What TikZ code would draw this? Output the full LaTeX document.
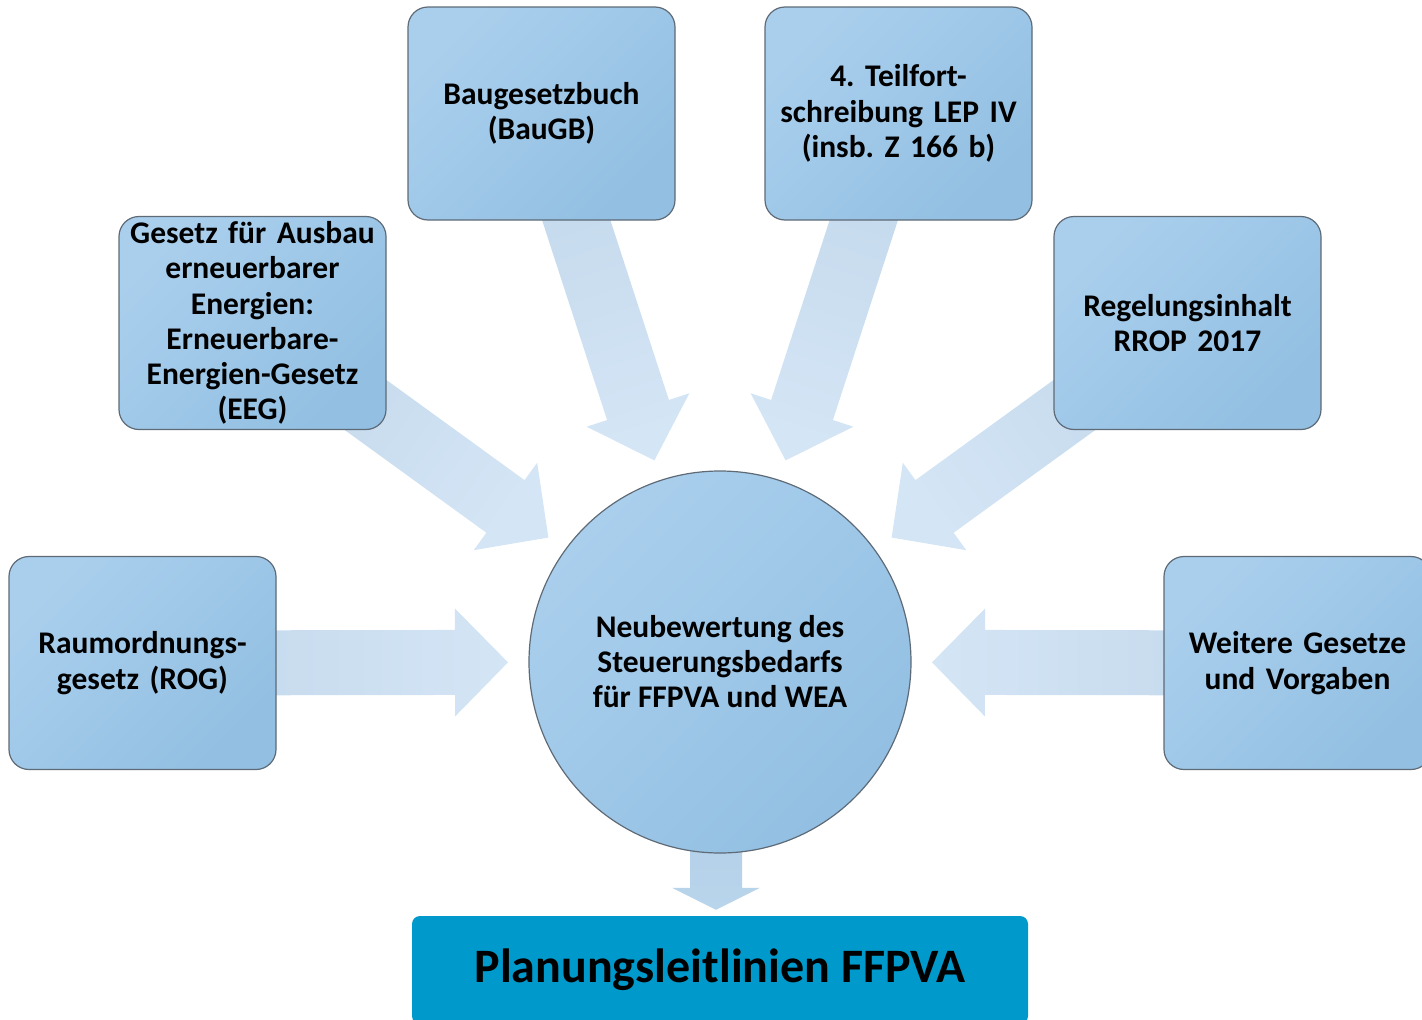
\documentclass[tikz,border=0pt]{standalone}
\usepackage{fontspec}
\setmainfont{Carlito}
\frenchspacing
\usetikzlibrary{calc,backgrounds}
\definecolor{boxlight}{HTML}{AACFED}
\definecolor{boxmid}{HTML}{A6CBEA}
\definecolor{boxdark}{HTML}{92BFE2}
\definecolor{boxline}{HTML}{5E6A76}
\definecolor{arrdark}{HTML}{C1D7EB}
\definecolor{arrlight}{HTML}{D4E5F5}
\definecolor{downdark}{HTML}{A6C6E2}
\definecolor{downlight}{HTML}{B9D5EC}
\definecolor{titlebg}{HTML}{0099CC}
\tikzset{
  srcbox/.style={rectangle, rounded corners=20pt, minimum width=267pt, minimum height=213pt,
    text width=264pt, align=center, draw=boxline, line width=1.2pt,
    top color=boxlight, middle color=boxmid, bottom color=boxdark, shading angle=45,
    font=\bfseries\fontsize{31.5}{35.3}\selectfont, inner sep=0pt},
  hubnode/.style={circle, minimum size=382pt, draw=boxline, line width=1.2pt,
    top color=boxlight, middle color=boxmid, bottom color=boxdark, shading angle=45,
    align=center, font=\bfseries\fontsize{31.5}{35}\selectfont, inner sep=0pt},
  titlenode/.style={rectangle, rounded corners=8pt, fill=titlebg, minimum width=616pt,
    minimum height=108pt, font=\bfseries\fontsize{48}{52}\selectfont, inner sep=0pt},
  arrowfill/.style={shading=axis, top color=arrdark, bottom color=arrlight, shading angle=#1},
}
\newcommand\srcarrow[2]{%
  \coordinate (T#1) at ($(hubc)!212pt!(#1.center)$);
  \coordinate (H#1) at ($(T#1)!53pt!(#1.center)$);
  \path[arrowfill=#2]
    ($(#1.center)!32.5pt!-90:(H#1)$) -- ($(H#1)!32.5pt!90:(#1.center)$)
    -- ($(H#1)!54pt!90:(#1.center)$) -- (T#1)
    -- ($(H#1)!54pt!-90:(#1.center)$) -- ($(H#1)!32.5pt!-90:(#1.center)$)
    -- ($(#1.center)!32.5pt!90:(H#1)$) -- cycle;
}
\begin{document}
\begin{tikzpicture}[x=1pt,y=-1pt]
\useasboundingbox (0,0) rectangle (1422,1020);
\coordinate (hubc) at (720,662);

\node[srcbox] (bau) at (541.5,113.5) {Baugesetzbuch\\(BauGB)};
\node[srcbox] (lep) at (898.5,113.5) {4. Teilfort-\\schreibung LEP IV\\(insb. Z 166 b)};
\node[srcbox] (eeg) at (252.5,323) {Gesetz für Ausbau\\erneuerbarer\\Energien:\\Erneuerbare-\\Energien-Gesetz\\(EEG)};
\node[srcbox] (rrop) at (1187.5,323) {Regelungsinhalt\\RROP 2017};
\node[srcbox] (rog) at (142.5,663) {Raumordnungs-\\gesetz (ROG)};
\node[srcbox] (weit) at (1297.5,663) {Weitere Gesetze\\und Vorgaben};

\node[hubnode] (hub) at (hubc) {Neubewertung des\\Steuerungsbedarfs\\für FFPVA und WEA};

\node[titlenode] (title) at (720,970) {Planungsleitlinien FFPVA};

\begin{pgfonlayer}{background}
  \srcarrow{rog}{90}
  \srcarrow{weit}{-90}
  \srcarrow{eeg}{54.06}
  \srcarrow{rrop}{-54.06}
  \srcarrow{bau}{18.03}
  \srcarrow{lep}{-18.03}
  \coordinate (dtip) at ($(title.north)+(-4,-6)$);
  \path[shading=axis, top color=downdark, bottom color=downlight]
    ($(hub.center)+(-30,0)$) -- ($(dtip)+(-26,-22)$) -- ($(dtip)+(-44,-22)$) -- (dtip)
    -- ($(dtip)+(44,-22)$) -- ($(dtip)+(26,-22)$) -- ($(hub.center)+(22,0)$) -- cycle;
\end{pgfonlayer}
\end{tikzpicture}
\end{document}
